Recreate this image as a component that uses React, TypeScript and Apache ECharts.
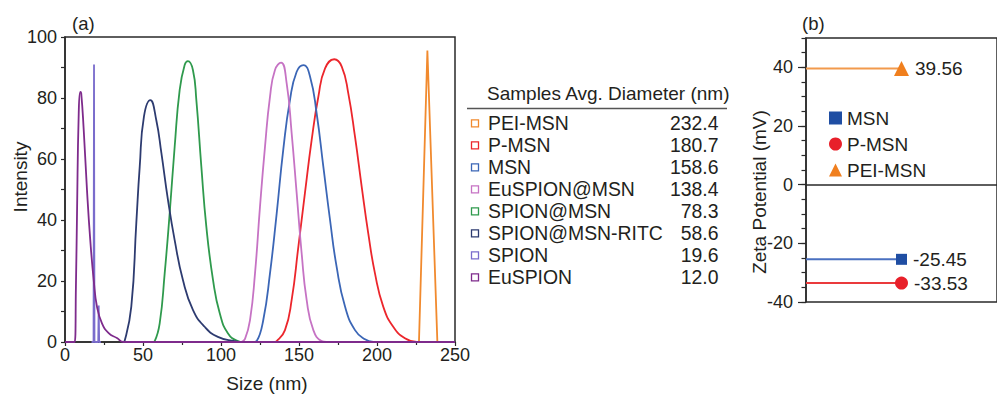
import { useEffect, useRef } from 'react';
import * as echarts from 'echarts';

const FONT = '"Liberation Sans", Arial, Helvetica, sans-serif';
const INK = '#231f20';
const AXIS = '#2a2a2a';

// ---- Panel (a): DLS size distributions, [size nm, intensity] ----
const peiMsnDls: [number, number][] = [[225.5, 0], [226.9, 0], [232.3, 95.6], [238.7, 0], [240, 0]];
const pMsnDls: [number, number][] = [[134, 0], [135.7, 0.3], [141, 3.9], [145.3, 13.8], [149.6, 31.3], [153.8, 48.8], [158.1, 66.2], [162.4, 80.4], [166.7, 89.7], [172.6, 92.7], [177.4, 90.3], [181.6, 81.5], [185.9, 67.3], [190.2, 50.9], [194.4, 35.6], [198.7, 22.5], [204, 11.6], [210.4, 5], [217.9, 1.2], [225.4, 0]];
const msnDls: [number, number][] = [[121, 0], [122.9, 0.3], [127.1, 7.2], [131.4, 22.5], [135.7, 42.2], [139.9, 63], [144.2, 79.3], [148.5, 88.6], [152.8, 90.8], [157.1, 87], [161.3, 75], [165.6, 57.5], [169.9, 40], [174.1, 24.7], [179.5, 11.6], [185.9, 3.9], [192.3, 0.9], [197.6, 0]];
const euSpionMsnDls: [number, number][] = [[113, 0], [115.4, 1], [118.6, 7.2], [121.8, 22.5], [125, 44.4], [128.2, 64], [131.4, 80.4], [134.6, 89.2], [138.5, 91.6], [142.1, 84.8], [145.3, 68.4], [148.5, 48.8], [151.7, 29.1], [154.9, 13.8], [159.2, 3.9], [164.5, 0.3], [167.6, 0]];
const spionMsnDls: [number, number][] = [[56, 0], [57.5, 0.3], [60.7, 6.1], [63.9, 22.5], [67.1, 42.2], [70.3, 64], [73.5, 82.6], [76.7, 90.8], [78.8, 92.1], [82, 89.2], [84.2, 79.3], [87.4, 57.5], [90.6, 37.8], [94.9, 20.3], [99.2, 9.4], [104.5, 2.8], [110.9, 0.3], [114, 0]];
const spionMsnRitcDls: [number, number][] = [[37, 0], [38.2, 0.3], [42.5, 11.6], [45.7, 38.9], [47.9, 57.5], [50.6, 73.9], [54.7, 79.3], [58.5, 72.8], [61.8, 61.9], [66, 46.6], [70.3, 33.4], [75.6, 20.3], [82, 10.5], [89.5, 5], [98, 1.7], [108.8, 0.3], [114, 0]];
const spionDls: [number, number][] = [[17, 0], [18.3, 0], [18.6, 91], [18.9, 0], [21.3, 0], [21.6, 12], [21.9, 0], [23, 0]];
const euSpionDls: [number, number][] = [[0, 0], [6.2, 0], [7.0, 18], [7.7, 42], [8.8, 75], [9.8, 82], [10.4, 81.5], [12.0, 69.5], [14.1, 49.8], [16.2, 33.4], [18.4, 20.3], [20.5, 11.6], [23.7, 6.1], [28, 2.9], [33.3, 1.3], [37.5, 0], [250, 0]];

const sampleNames = ['PEI-MSN', 'P-MSN', 'MSN', 'EuSPION@MSN', 'SPION@MSN', 'SPION@MSN-RITC', 'SPION', 'EuSPION'];
const avgDiameters = ['232.4', '180.7', '158.6', '138.4', '78.3', '58.6', '19.6', '12.0'];
const sampleColors = ['#f18a2e', '#ec262c', '#3b66b6', '#c673c4', '#2f9a4d', '#2d3b70', '#7a6ccc', '#7e2b8c'];
const sampleCurves = [peiMsnDls, pMsnDls, msnDls, euSpionMsnDls, spionMsnDls, spionMsnRitcDls, spionDls, euSpionDls];
const sampleSmooth = [false, true, true, true, true, true, false, true];

// ---- Panel (b): zeta potential ----
const zetaSamples = ['MSN', 'P-MSN', 'PEI-MSN'];
const zetaValues = [-25.45, -33.53, 39.56];
const zetaSymbols = ['rect', 'circle', 'triangle'];
const zetaSymbolSizes = [11, 13, 15];
const zetaMarkerColors = ['#1f4ea3', '#e8202a', '#f07f1e'];
const zetaLineColors = ['#4a70c0', '#ea3a3c', '#f29a4c'];

const sizeTicks = { min: 0, max: 250, interval: 50 };
const intensityTicks = { min: 0, max: 100, interval: 20 };
const zetaTicks = { min: -40, max: 50, interval: 20 };

export default function App() {
  const ref = useRef<HTMLDivElement>(null);
  useEffect(() => {
    const chart = echarts.init(ref.current!, null, { renderer: 'svg' });

    const labelStyle = { color: INK, fontFamily: FONT, fontSize: 18 };

    const dlsSeries = sampleNames.map((name, i) => ({
      name: 'DLS ' + name,
      type: 'line',
      xAxisIndex: 0,
      yAxisIndex: 0,
      data: sampleCurves[i],
      symbol: 'none',
      smooth: sampleSmooth[i] ? 0.5 : false,
      lineStyle: { color: sampleColors[i], width: 1.8 },
      itemStyle: { color: sampleColors[i] },
      z: 2 + i,
    }));

    const zetaSeries = zetaSamples.map((name, i) => ({
      name,
      type: 'line',
      xAxisIndex: 1,
      yAxisIndex: 1,
      symbol: zetaSymbols[i],
      symbolSize: zetaSymbolSizes[i],
      showSymbol: true,
      data: [
        { value: [0, zetaValues[i]], symbol: 'none' },
        { value: [1, zetaValues[i]] },
      ],
      lineStyle: { color: zetaLineColors[i], width: 2 },
      itemStyle: { color: zetaMarkerColors[i] },
      label: {
        show: true,
        position: 'right',
        distance: 6,
        color: INK,
        fontFamily: FONT,
        fontSize: 19,
        formatter: (p: any) => (p.dataIndex === 1 ? p.value[1].toFixed(2) : ''),
      },
      z: 5,
    }));

    const tableRowY = (i: number) => 123.3 + i * 22;
    const tableGraphics: any[] = [];
    sampleNames.forEach((name, i) => {
      tableGraphics.push({
        type: 'rect',
        shape: { x: 471.5, y: tableRowY(i) - 3.5, width: 7, height: 7 },
        style: { fill: '#fff', stroke: sampleColors[i], lineWidth: 1.3 },
      });
      tableGraphics.push({
        type: 'text',
        x: 488,
        y: tableRowY(i),
        style: { text: name, fill: INK, font: `19.4px ${FONT}`, verticalAlign: 'middle', align: 'left' },
      });
      tableGraphics.push({
        type: 'text',
        x: 718.5,
        y: tableRowY(i),
        style: { text: avgDiameters[i], fill: INK, font: `19.4px ${FONT}`, verticalAlign: 'middle', align: 'right' },
      });
    });

    const option: any = {
      animation: false,
      backgroundColor: '#fff',
      textStyle: { fontFamily: FONT },
      grid: [
        { left: 65, top: 37, width: 390, height: 305, show: true, borderColor: AXIS, borderWidth: 1.5, backgroundColor: 'transparent' },
        { left: 806, top: 38, width: 201, height: 264, show: true, borderColor: AXIS, borderWidth: 1.5, backgroundColor: 'transparent' },
      ],
      xAxis: [
        {
          gridIndex: 0,
          type: 'value',
          ...sizeTicks,
          axisLine: { show: true, onZero: false, lineStyle: { color: AXIS, width: 1.5 } },
          axisTick: { show: true, inside: false, length: 4, lineStyle: { color: AXIS, width: 1.2 } },
          minorTick: { show: true, splitNumber: 2, length: 3, lineStyle: { color: AXIS, width: 1.2 } },
          axisLabel: { ...labelStyle, margin: 4 },
          splitLine: { show: false },
          minorSplitLine: { show: false },
        },
        {
          gridIndex: 1,
          type: 'value',
          min: 0,
          max: 2,
          axisLine: { show: true, onZero: true, lineStyle: { color: AXIS, width: 1.5 } },
          axisTick: { show: false },
          axisLabel: { show: false },
          splitLine: { show: false },
        },
      ],
      yAxis: [
        {
          gridIndex: 0,
          type: 'value',
          ...intensityTicks,
          axisLine: { show: true, lineStyle: { color: AXIS, width: 1.5 } },
          axisTick: { show: true, inside: false, length: 4, lineStyle: { color: AXIS, width: 1.2 } },
          minorTick: { show: true, splitNumber: 2, length: 4, lineStyle: { color: AXIS, width: 1.2 } },
          axisLabel: { ...labelStyle, margin: 8 },
          splitLine: { show: false },
          minorSplitLine: { show: false },
        },
        {
          gridIndex: 1,
          type: 'value',
          position: 'left',
          offset: 0,
          ...zetaTicks,
          axisLine: { show: true, onZero: false, lineStyle: { color: AXIS, width: 1.5 } },
          axisTick: { show: true, inside: false, length: 8, lineStyle: { color: AXIS, width: 1.2 } },
          axisLabel: { ...labelStyle, margin: 13, showMaxLabel: false },
          splitLine: { show: false },
        },
        {
          gridIndex: 1,
          type: 'value',
          position: 'left',
          offset: 0,
          min: -40,
          max: 50,
          interval: 5,
          axisLine: { show: false },
          axisTick: { show: true, inside: false, length: 4.5, lineStyle: { color: AXIS, width: 1.2 } },
          axisLabel: { show: false },
          splitLine: { show: false },
        },
      ],
      legend: {
        orient: 'vertical',
        left: 824,
        top: 103,
        itemWidth: 13,
        itemHeight: 13,
        itemGap: 6,
        selectedMode: false,
        textStyle: { color: INK, fontFamily: FONT, fontSize: 19, lineHeight: 20 },
        data: zetaSamples.map((name, i) => ({ name, icon: zetaSymbols[i] })),
      },
      graphic: [
        { type: 'text', x: 72, y: 23, style: { text: '(a)', fill: INK, font: `18.5px ${FONT}`, verticalAlign: 'middle' } },
        { type: 'text', x: 802, y: 23, style: { text: '(b)', fill: INK, font: `18.5px ${FONT}`, verticalAlign: 'middle' } },
        { type: 'text', x: 20, y: 177, rotation: Math.PI / 2, style: { text: 'Intensity', fill: INK, font: `19px ${FONT}`, align: 'center', verticalAlign: 'middle' } },
        { type: 'text', x: 267, y: 383, style: { text: 'Size (nm)', fill: INK, font: `19px ${FONT}`, align: 'center', verticalAlign: 'middle' } },
        { type: 'text', x: 759, y: 192, rotation: Math.PI / 2, style: { text: 'Zeta Potential (mV)', fill: INK, font: `19px ${FONT}`, align: 'center', verticalAlign: 'middle' } },
        { type: 'text', x: 487, y: 93, style: { text: 'Samples Avg. Diameter (nm)', fill: INK, font: `19px ${FONT}`, verticalAlign: 'middle' } },
        { type: 'line', shape: { x1: 467, y1: 108.5, x2: 727, y2: 108.5 }, style: { stroke: '#555', lineWidth: 1.5 } },
        ...tableGraphics,
      ],
      series: [...zetaSeries, ...dlsSeries],
    };

    chart.setOption(option);
    return () => chart.dispose();
  }, []);
  return (
    <div
      ref={ref}
      style={{ position: 'fixed', left: 0, top: 0, width: 997, height: 394, background: '#fff' }}
    />
  );
}
